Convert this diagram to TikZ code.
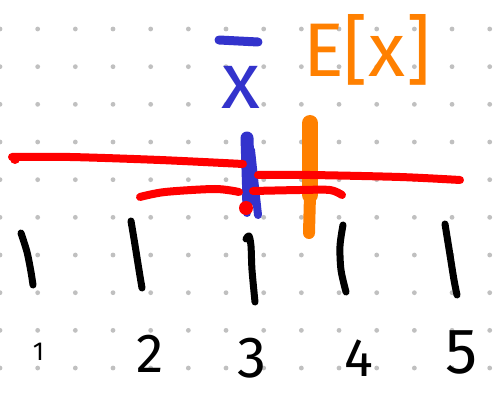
\documentclass[tikz,border=0pt]{standalone}
\usepackage{fontspec}
\setmainfont{Fira Sans}
\definecolor{penblue}{RGB}{51,51,204}
\definecolor{penorange}{RGB}{255,128,0}
\definecolor{penred}{RGB}{255,0,0}
\definecolor{dotgray}{RGB}{192,192,192}
\begin{document}
\begin{tikzpicture}[x=1pt,y=-1pt,line cap=round,line join=round,
  tickmark/.style={draw=black,line width=7pt},
  redline/.style={draw=penred,line width=8pt},
  digit/.style={text=black,inner sep=0pt},
  bluebar/.style={draw=penblue},
  orangebar/.style={draw=penorange}]
\useasboundingbox (0,0) rectangle (496,393);
\fill[white] (0,0) rectangle (496,393);
% dot grid
\foreach \i in {0,...,13}
  \foreach \j in {0,...,9}
    \fill[dotgray] (37.67*\i,29+37.67*\j) circle (2.4pt);
% tick marks
\draw[tickmark] plot[smooth] coordinates {(21,233) (27,252) (31,272) (33,285)};
\draw[tickmark] plot[smooth] coordinates {(131,221) (135,245) (139,270) (142,288)};
\draw[tickmark] plot[smooth] coordinates {(246,239) (249,236) (251,246) (252,270) (255,302)};
\draw[tickmark] plot[smooth] coordinates {(343,225) (340,246) (341,270) (346,292)};
\draw[tickmark] plot[smooth] coordinates {(445,224) (450,255) (454,280) (457,295)};
% orange bar
\draw[orangebar,line width=16pt] (310,123) -- (310,195);
\draw[orangebar,line width=12pt] (310,195) -- (309,233);
% blue bar
\draw[bluebar,line width=13pt] (247,138) -- (249,200);
\draw[bluebar,line width=8pt] (251,150) -- (258,215);
\draw[bluebar,line width=8pt] (246,195) -- (247,213);
% red lines
\draw[redline] plot[smooth] coordinates {(12,157) (70,157) (160,160) (243,164)};
\fill[penred] (15,159) circle (5pt);
\draw[redline] plot[smooth] coordinates {(140,197) (165,192) (215,189) (239,192)};
\draw[redline] plot[smooth] coordinates {(258,175) (310,175) (400,177) (460,180)};
\draw[redline] plot[smooth] coordinates {(253,191) (300,190) (330,190) (342,195)};
\fill[penred] (246,208) circle (7pt);
% labels
\node[digit,font=\fontsize{26}{26}\selectfont] (n1) at (38.5,352) {1};
\node[digit,font=\fontsize{55}{55}\selectfont] (n2) at (150,354) {2};
\node[digit,font=\fontsize{58}{58}\selectfont] (n3) at (252,358) {3};
\node[digit,font=\fontsize{54}{54}\selectfont] (n4) at (359,358) {4};
\node[digit,font=\fontsize{64}{64}\selectfont] (n5) at (462,352) {5};
\node[text=penblue,inner sep=0pt,font=\fontsize{80}{80}\selectfont] (xbar) at (241,87) {x};
\draw[bluebar,line width=9pt] (219,40) -- (258,42);
\node[text=penorange,inner sep=0pt,font=\fontsize{76}{76}\selectfont] (ex) at (367,50) {E[x]};
\end{tikzpicture}
\end{document}
